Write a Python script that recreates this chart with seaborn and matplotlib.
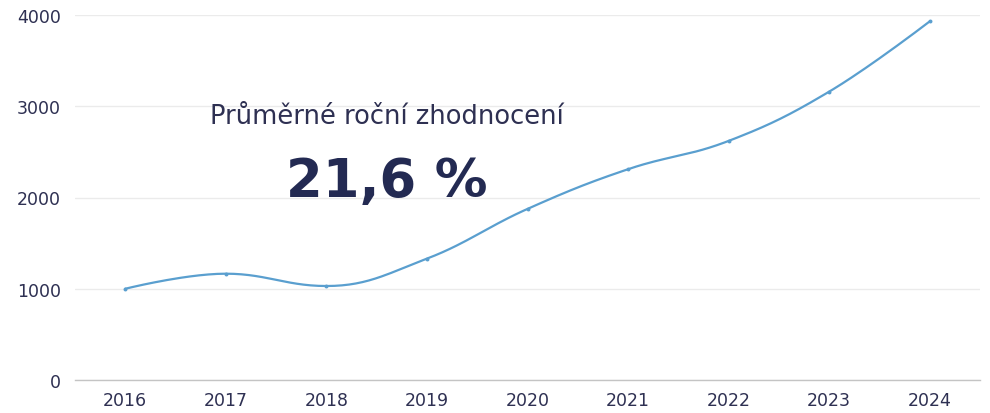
import numpy as np
import pandas as pd
import matplotlib.pyplot as plt
import seaborn as sns

# Data
years = ['2016', '2017', '2018', '2019', '2020', '2021', '2022', '2023', '2024']
values = [1000, 1165, 1030, 1330, 1875, 2310, 2620, 3160, 3930]
y_ticks = [0, 1000, 2000, 3000, 4000]
title_text = 'Průměrné roční zhodnocení'
big_text = '21,6 %'

LINE = '#5a9fcf'
TEXT = '#2e3052'
NAVY = '#232a52'


def spline_path(xs, ys, smoothing=1.5, n=30):
    """Spline smoothing of the kind used by web charting libraries."""
    xs = np.asarray(xs, float)
    ys = np.asarray(ys, float)
    k = len(xs)
    lc = np.column_stack([xs, ys]).copy()
    rc = np.column_stack([xs, ys]).copy()
    d = smoothing + 1
    for i in range(1, k - 1):
        x, y = xs[i], ys[i]
        lx, ly = xs[i - 1], ys[i - 1]
        nx, ny = xs[i + 1], ys[i + 1]
        lcx = (smoothing * x + lx) / d
        lcy = (smoothing * y + ly) / d
        rcx = (smoothing * x + nx) / d
        rcy = (smoothing * y + ny) / d
        corr = (rcy - lcy) * (rcx - x) / (rcx - lcx) + y - rcy
        lcy += corr
        rcy += corr
        if lcy > ly and lcy > y:
            lcy = max(ly, y); rcy = 2 * y - lcy
        elif lcy < ly and lcy < y:
            lcy = min(ly, y); rcy = 2 * y - lcy
        if rcy > ny and rcy > y:
            rcy = max(ny, y); lcy = 2 * y - rcy
        elif rcy < ny and rcy < y:
            rcy = min(ny, y); lcy = 2 * y - rcy
        lc[i] = (lcx, lcy)
        rc[i] = (rcx, rcy)
    t = np.linspace(0, 1, n)[:, None]
    out = []
    for i in range(1, k):
        p0 = np.array([xs[i - 1], ys[i - 1]])
        p1 = rc[i - 1]
        p2 = lc[i]
        p3 = np.array([xs[i], ys[i]])
        seg = ((1 - t) ** 3) * p0 + 3 * ((1 - t) ** 2) * t * p1 + 3 * (1 - t) * t ** 2 * p2 + t ** 3 * p3
        out.append(seg if i == 1 else seg[1:])
    out = np.vstack(out)
    return out[:, 0], out[:, 1]


df = pd.DataFrame({'idx': np.arange(len(years)), 'value': values})
sx, sy = spline_path(df['idx'], df['value'])
curve = pd.DataFrame({'x': sx, 'y': sy})

sns.set_theme(style='white')
plt.rcParams['font.family'] = ['DejaVu Sans']

fig = plt.figure(figsize=(9.9, 4.14), dpi=100)
ax = fig.add_axes([75 / 990, 33 / 414, 905 / 990, 365 / 414])

sns.lineplot(data=curve, x='x', y='y', sort=False, estimator=None,
             color=LINE, linewidth=1.6, ax=ax, zorder=3)
sns.scatterplot(data=df, x='idx', y='value', color=LINE, s=8,
                edgecolor=LINE, linewidth=0, ax=ax, zorder=4)

ax.set_xlim(-0.5, len(years) - 0.5)
ax.set_ylim(0, 4000)
ax.set_xticks(range(len(years)))
ax.set_xticklabels(years)
ax.set_yticks(y_ticks)
ax.set_xlabel('')
ax.set_ylabel('')
ax.grid(axis='y', color='#ebebeb', linewidth=1)
ax.set_axisbelow(True)
for s in ['top', 'right', 'left']:
    ax.spines[s].set_visible(False)
ax.spines['bottom'].set_color('#c4c4c4')
ax.spines['bottom'].set_linewidth(1)
ax.tick_params(axis='both', length=0, labelsize=12.5, colors=TEXT)
ax.tick_params(axis='y', pad=10)
ax.tick_params(axis='x', pad=8)

ax.text(0.345, 0.722, title_text, transform=ax.transAxes, ha='center',
        va='center', fontsize=18.5, color=TEXT)
ax.text(0.345, 0.545, big_text, transform=ax.transAxes, ha='center',
        va='center', fontsize=38, fontweight='bold', color=NAVY)

fig.savefig('out.png', dpi=100)
